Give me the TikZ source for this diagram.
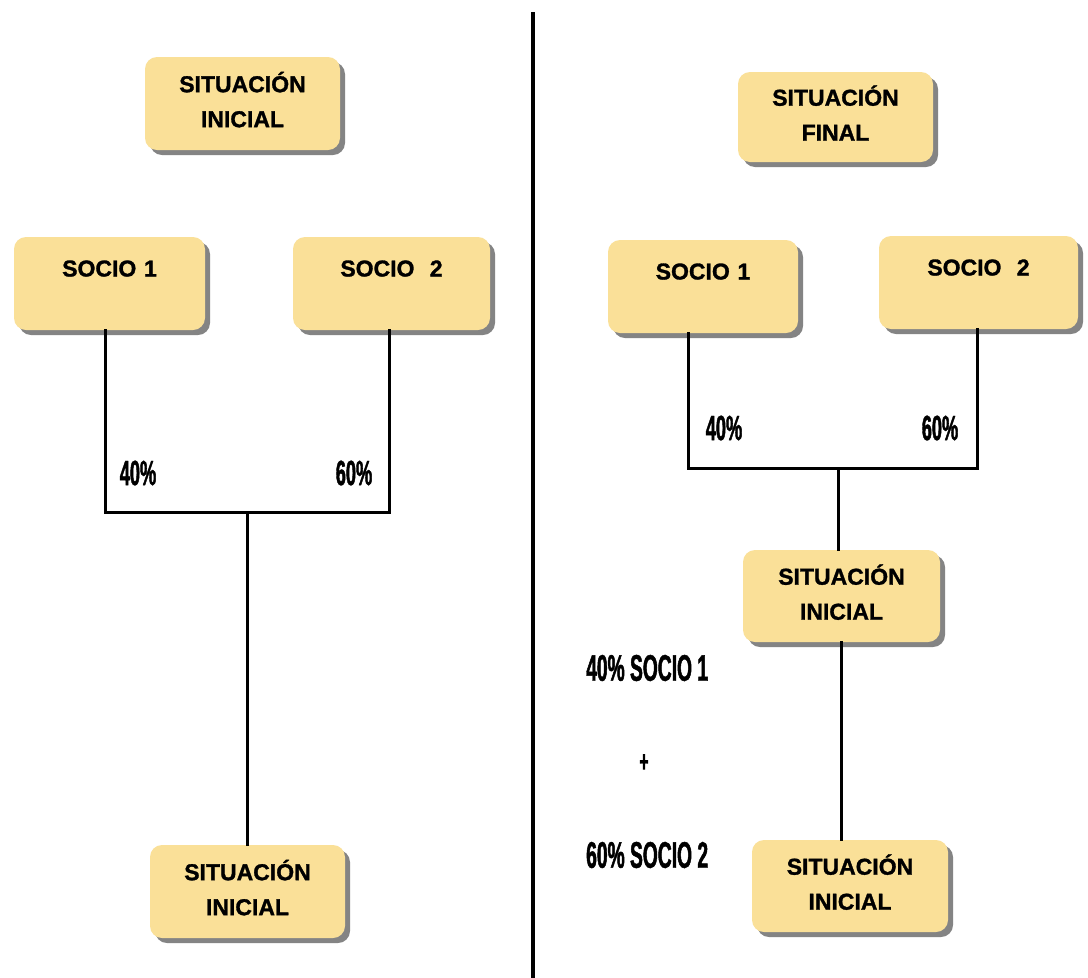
\documentclass[tikz,border=0pt]{standalone}
\usepackage{fontspec}
\setmainfont{Liberation Sans}
\newfontfamily\condfont[FakeStretch=0.52,FakeBold=1.2]{Liberation Sans Bold}
\newfontfamily\boxfont[FakeBold=1.3]{Liberation Sans Bold}
\usetikzlibrary{shadows}
\definecolor{boxfill}{RGB}{250,224,152}
\tikzset{
  boxbase/.style={fill=boxfill, rounded corners=12pt, inner sep=0pt,
    drop shadow={shadow xshift=5pt, shadow yshift=-5pt, fill=black!60, opacity=0.8},
    font=\boxfont\fontsize{23}{35}\selectfont, align=center},
  twoline/.style={boxbase, minimum width=#1, minimum height=93pt, text depth=8pt},
  sociobox/.style={boxbase, text width=#1, text height=17pt, text depth=31pt, inner ysep=22.5pt},
  conn/.style={line width=3pt, line cap=rect},
  pct/.style={font=\condfont\fontsize{35}{35}\selectfont, inner sep=0pt},
  sumtxt/.style={font=\condfont\fontsize{37}{37}\selectfont, inner sep=0pt, anchor=west},
}
\begin{document}
\begin{tikzpicture}[x=1pt, y=-1pt]
\useasboundingbox[fill=white] (0,0) rectangle (1088,978);
% divider
\draw[line width=3.5pt] (533,12) -- (533,978);
% left side
\node[twoline=195pt] (ltop) at (242.5,103.5) {SITUACIÓN\\INICIAL};
\node[sociobox=191pt] (ls1) at (109.5,283.5) {SOCIO 1};
\node[sociobox=197pt] (ls2) at (391.5,283.5) {SOCIO\ \ 2};
\node[twoline=195pt] (lbot) at (247.5,891.5) {SITUACIÓN\\INICIAL};
\coordinate (lj) at (247.5,512);
\draw[conn] ([xshift=-4pt]ls1.south) |- (lj) -| ([xshift=-2pt]ls2.south);
\draw[conn] (lj) -- (lbot.north);
\node[pct] (l40) at (138,473) {40\%};
\node[pct] (l60) at (354,473) {60\%};
% right side
\node[twoline=195pt, minimum height=90pt] (rtop) at (835.5,117) {SITUACIÓN\\FINAL};
\node[sociobox=190pt] (rs1) at (703,286.5) {SOCIO 1};
\node[sociobox=199pt] (rs2) at (978.5,282.5) {SOCIO\ \ 2};
\node[twoline=197pt, minimum height=92pt] (rmid) at (841.5,596) {SITUACIÓN\\INICIAL};
\node[twoline=196pt, minimum height=92pt] (rbot) at (850,886) {SITUACIÓN\\INICIAL};
\coordinate (rj) at (838,468);
\draw[conn] ([xshift=-15pt]rs1.south) |- (rj) -| ([xshift=-1.5pt]rs2.south);
\draw[conn] (rj) -- (rj |- rmid.north);
\draw[conn] (rmid.south) -- (rmid.south |- rbot.north);
\node[pct] (r40) at (724,428) {40\%};
\node[pct] (r60) at (940,428) {60\%};
\node[sumtxt] (sum1) at (586,668) {40\% SOCIO 1};
\node[font=\condfont\fontsize{30}{30}\selectfont, inner sep=0pt] (plus) at (644,763) {+};
\node[sumtxt] (sum2) at (586,855) {60\% SOCIO 2};
\end{tikzpicture}
\end{document}
